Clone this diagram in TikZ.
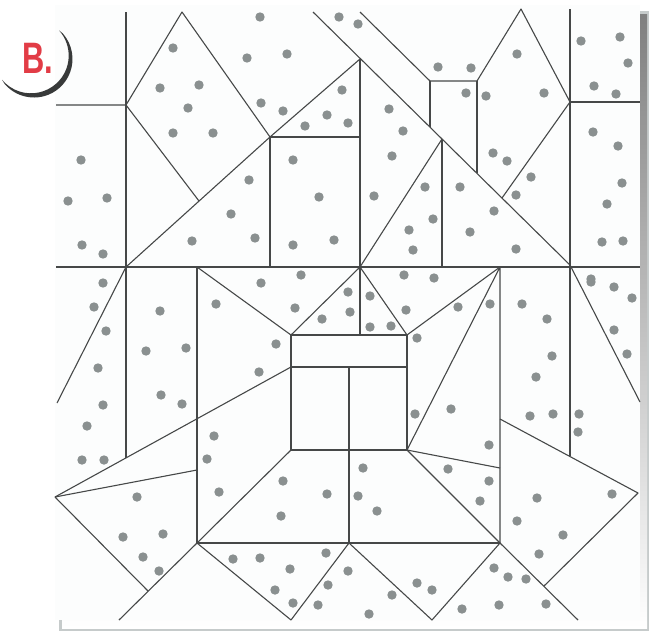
\documentclass[tikz,border=0pt]{standalone}
\usepackage{fontspec}
\setsansfont{Liberation Sans}
\definecolor{ink}{RGB}{70,72,72}
\definecolor{dotgray}{RGB}{138,144,144}
\definecolor{labelred}{RGB}{226,60,70}
\definecolor{shade}{RGB}{140,152,152}
\definecolor{panel}{RGB}{252,253,253}

\begin{document}
\begin{tikzpicture}[x=1pt, y=-1pt, line join=round]
  \fill[white] (0,0) rectangle (649,633);
  \useasboundingbox (0,0) rectangle (649,633);
  % Panel and its shadow
  \fill[shade!50] (59,11) rectangle (649,631);
  \fill[shade] (62,14) rectangle (647,628);
  \fill[panel] (55,5) rectangle (640,620);
  % Corner points, top half
  \coordinate (a1) at (126,12);
  \coordinate (a2) at (126,105);
  \coordinate (a3) at (56,105);
  \coordinate (a4) at (182,12);
  \coordinate (a5) at (270,137);
  \coordinate (a6) at (199,201);
  \coordinate (a7) at (126,267);
  \coordinate (a8) at (360,59);
  \coordinate (a9) at (313,12);
  \coordinate (a10) at (570,265);
  \coordinate (a11) at (360,12);
  \coordinate (a12) at (430,81);
  \coordinate (a13) at (477,81);
  \coordinate (a14) at (430,127);
  \coordinate (a15) at (477,173);
  \coordinate (a16) at (521,9);
  \coordinate (a17) at (570,102);
  \coordinate (a18) at (502,198);
  \coordinate (a19) at (570,9);
  \coordinate (a20) at (640,102);
  \coordinate (a21) at (442,139);
  \coordinate (a22) at (360,137);
  \coordinate (a23) at (270,267);
  \coordinate (a24) at (360,267);
  \coordinate (a25) at (442,267);
  \coordinate (a26) at (56,267);
  \coordinate (a27) at (640,267);
  % Corner points, bottom half
  \coordinate (b1) at (57,403);
  \coordinate (b2) at (126,458);
  \coordinate (b3) at (197,267);
  \coordinate (b4) at (197,543);
  \coordinate (b5) at (291,335);
  \coordinate (b6) at (407,335);
  \coordinate (b7) at (291,367);
  \coordinate (b8) at (407,367);
  \coordinate (b9) at (291,450);
  \coordinate (b10) at (407,450);
  \coordinate (b11) at (349,367);
  \coordinate (b12) at (349,543);
  \coordinate (b13) at (500,267);
  \coordinate (b14) at (500,543);
  \coordinate (b15) at (570,456);
  \coordinate (b16) at (640,402);
  \coordinate (b17) at (500,419);
  \coordinate (b18) at (638,493);
  \coordinate (b19) at (544,586);
  \coordinate (b20) at (55,497);
  \coordinate (b21) at (197,470);
  \coordinate (b22) at (148,591);
  \coordinate (b23) at (119,620);
  \coordinate (b24) at (291,620);
  \coordinate (b25) at (432,620);
  \coordinate (b26) at (578,620);
  \coordinate (b27) at (500,468);
  \coordinate (b28) at (360,335);
  % Pieces, top half
  \begin{scope}[draw=ink, line width=1.1pt]
    \draw (a1) -- (b2);
    \draw (a3) -- (a2) -- (a4) -- (a5);
    \draw (a2) -- (a6);
    \draw (a7) -- (a5) -- (a8);
    \draw (a5) -- (a23);
    \draw (a5) -- (a22);
    \draw (a8) -- (b28);
    \draw (a9) -- (a10);
    \draw (a11) -- (a12) -- (a13) -- (a16) -- (a17) -- (a18);
    \draw (a12) -- (a14);
    \draw (a13) -- (a15);
    \draw (a19) -- (b15);
    \draw (a17) -- (a20);
    \draw (a21) -- (a25);
    \draw (a21) -- (a24);
    \draw (a26) -- (a27);
    % Pieces, bottom half
    \draw (a7) -- (b1);
    \draw (b3) -- (b4);
    \draw (b3) -- (b5) -- (a24) -- (b6) -- (b13);
    \draw (b5) rectangle (b10);
    \draw (b7) -- (b8);
    \draw (b11) -- (b12);
    \draw (b10) -- (b13) -- (b14);
    \draw (a10) -- (b16);
    \draw (b17) -- (b18) -- (b19);
    \draw (b20) -- (b7);
    \draw (b20) -- (b21);
    \draw (b20) -- (b22);
    \draw (b23) -- (b4) -- (b24);
    \draw (b4) -- (b9);
    \draw (b4) -- (b14);
    \draw (b24) -- (b12) -- (b25) -- (b14) -- (b26);
    \draw (b10) -- (b27);
    \draw (b10) -- (b14);
  \end{scope}
  % Dots
  \foreach \x/\y in {260/17,173/48,247/58,287/54,160/88,199/85,188/108,261/103,
    283/111,327/115,305/126,173/133,213/133,81/160,293/160,249/180,68/201,
    107/198,319/197,231/214,82/245,103/254,192/241,255/238,293/245,301/275,
    339/17,358/24,438/67,471/68,517/54,581/41,620/37,628/63,594/86,616/94,
    342/90,348/123,389/109,466/93,486/96,544/93,403/131,392/156,493/153,
    507/161,531/177,516/195,593/132,618/146,622/183,607/204,374/196,334/240,
    425/187,460/187,433/219,409/230,413/250,494/211,470/232,516/249,602/242,
    623/241,404/275,434/278,591/279,
    103/283,94/307,106/331,98/368,103/405,87/426,160/311,146/351,186/348,
    161/395,182/404,216/304,261/283,295/308,322/319,276/344,259/372,214/436,
    207/459,82/460,104/460,
    348/292,350/312,370/296,370/327,391/326,406/310,458/307,490/304,417/338,
    522/304,547/319,552/356,536/377,530/416,553/414,579/414,578/432,591/282,
    614/287,632/298,614/330,627/354,415/414,451/409,489/445,
    137/497,219/492,283/481,281/516,327/494,123/537,163/534,143/557,159/571,
    233/559,260/558,290/569,275/590,293/603,318/605,326/553,328/585,
    448/469,489/481,480/501,363/468,358/496,377/511,537/498,612/494,517/521,
    563/535,539/554,348/571,369/614,392/595,417/583,432/590,494/568,508/577,
    526/579,462/609,499/605,546/604}
    \fill[dotgray] (\x,\y) circle (4.7pt);
  % Label with its crescent
  \fill[ink!80!black] (34,59) ++(140:38.5) arc[start angle=140, end angle=-42, radius=38.5]
    -- ([shift={(-42:37.7)}]31,55.6) arc[start angle=-42, end angle=140, radius=37.7] -- cycle;
  \node[anchor=base west, inner sep=0pt, text=labelred,
    font=\sffamily\bfseries\fontsize{44}{44}\selectfont] (lbl) at (22,73) {\scalebox{0.7}[1]{B.}};
\end{tikzpicture}
\end{document}
